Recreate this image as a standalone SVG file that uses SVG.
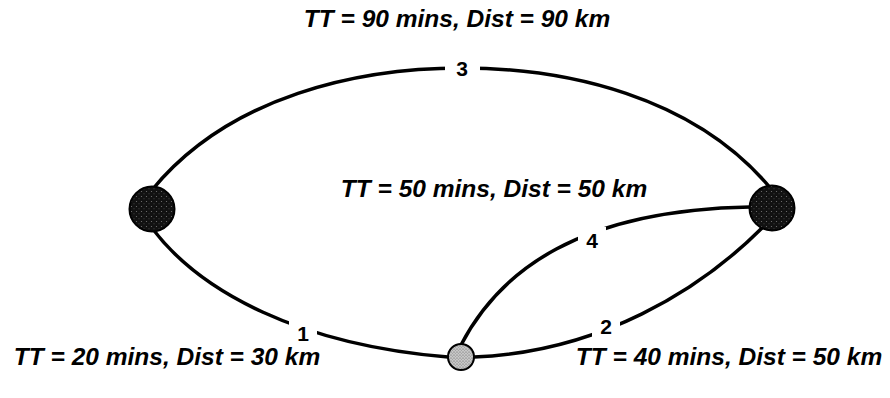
<svg xmlns="http://www.w3.org/2000/svg" width="890" height="398" viewBox="0 0 890 398">
  <style>
    .lbl { font-family: "Liberation Sans", Arial, sans-serif; font-weight: bold; font-style: italic; font-size: 24.5px; fill: #000; }
    .num { font-family: "Liberation Sans", Arial, sans-serif; font-weight: bold; font-size: 21px; fill: #000; }
    .edge { fill: none; stroke: #000; stroke-width: 3.5; stroke-linecap: round; }
    .gap { fill: #fff; }
  </style>
  <defs>
    <pattern id="stipDark" width="5" height="5" patternUnits="userSpaceOnUse">
      <rect width="5" height="5" fill="#111"/>
      <circle cx="1.5" cy="1.5" r="0.6" fill="#777"/>
      <circle cx="4" cy="3.8" r="0.5" fill="#555"/>
    </pattern>
    <pattern id="stipLight" width="3" height="3" patternUnits="userSpaceOnUse">
      <rect width="3" height="3" fill="#c8c8c8"/>
      <circle cx="1" cy="1" r="0.55" fill="#555"/>
      <circle cx="2.4" cy="2.3" r="0.45" fill="#777"/>
    </pattern>
  </defs>

  <g id="connectors">
    <path id="e3" class="edge" d="M152,190 C230,95 360,68 462,68 C564,68 694,95 772,190"/>
    <path id="e1" class="edge" d="M152,228 C200,292 300,345 448,357"/>
    <path id="e2" class="edge" d="M474,357 C600,352 700,290 762,228"/>
    <path id="e4" class="edge" d="M461,345 C500,270 580,210 750,207"/>
    <rect class="gap" x="445" y="55" width="35" height="26"/>
    <text class="num" x="462" y="76" text-anchor="middle">3</text>
    <rect class="gap" x="289" y="319" width="28" height="28"/>
    <text class="num" x="303" y="341" text-anchor="middle">1</text>
    <rect class="gap" x="592" y="313" width="28" height="27"/>
    <text class="num" x="606" y="334" text-anchor="middle">2</text>
    <rect class="gap" x="578" y="227" width="28" height="27"/>
    <text class="num" x="592" y="248" text-anchor="middle">4</text>
  </g>

  <g id="node-left">
    <circle cx="152" cy="209" r="22.5" fill="url(#stipDark)" stroke="#000" stroke-width="2"/>
  </g>
  <g id="node-right">
    <circle cx="772" cy="208" r="22.5" fill="url(#stipDark)" stroke="#000" stroke-width="2"/>
  </g>
  <g id="node-bottom">
    <circle cx="461" cy="357" r="13" fill="url(#stipLight)" stroke="#000" stroke-width="2"/>
  </g>

  <g id="labels">
    <text class="lbl" x="457" y="27" text-anchor="middle">TT = 90 mins, Dist = 90 km</text>
    <text class="lbl" x="494" y="197" text-anchor="middle">TT = 50 mins, Dist = 50 km</text>
    <text class="lbl" x="167" y="365" text-anchor="middle">TT = 20 mins, Dist = 30 km</text>
    <text class="lbl" x="729" y="365" text-anchor="middle">TT = 40 mins, Dist = 50 km</text>
  </g>
</svg>
